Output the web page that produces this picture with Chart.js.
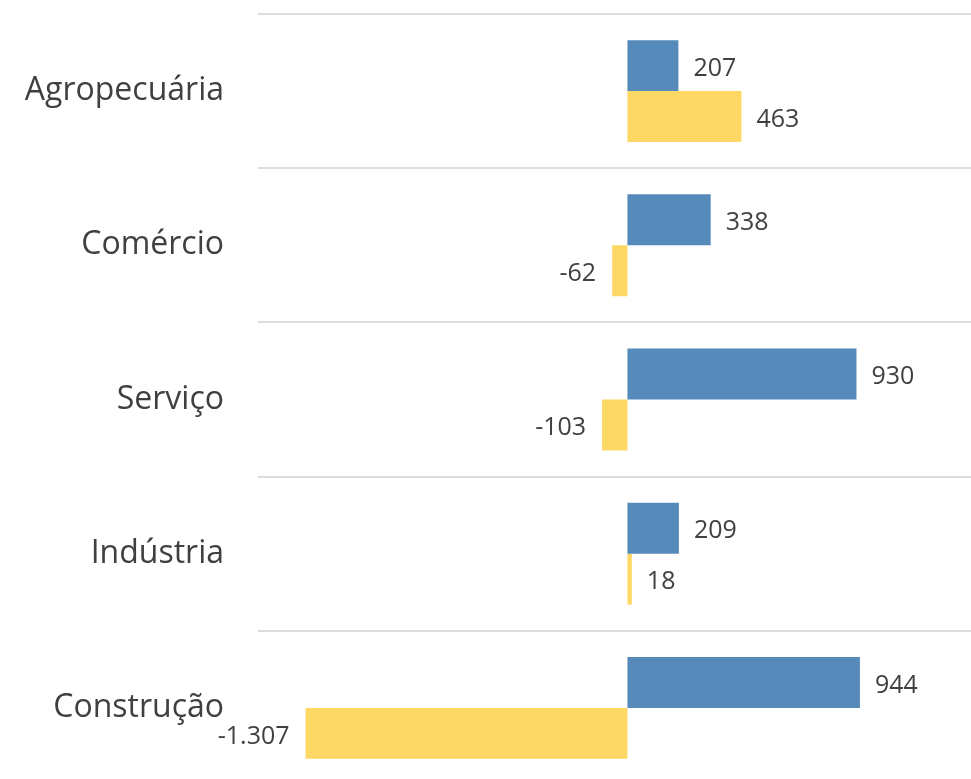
<!DOCTYPE html>
<html>
<head>
<meta charset="utf-8">
<script src="https://cdn.jsdelivr.net/npm/chart.js@4"></script>
<style>
html,body{margin:0;padding:0;background:#fff;overflow:hidden}
canvas{display:block}
</style>
</head>
<body>
<canvas id="grafico" width="971" height="800"></canvas>
<script>
const setores=['Agropecuária','Comércio','Serviço','Indústria','Construção'];
const serieAzul=[207,338,930,209,944];
const serieAmarela=[463,-62,-103,18,-1307];

// rótulo no formato pt-BR (ponto como separador de milhar)
function fmt(v){return v.toLocaleString('pt-BR')}

const rotulos={
  id:'rotulos',
  afterDatasetsDraw(chart){
    const ctx=chart.ctx;
    ctx.save();
    ctx.font='25px "Open Sans"';ctx.fillStyle='#404040';ctx.textBaseline='middle';
    chart.data.datasets.forEach((ds,i)=>{
      chart.getDatasetMeta(i).data.forEach((bar,j)=>{
        const v=ds.data[j];
        if(v>=0){ctx.textAlign='left';ctx.fillText(fmt(v),bar.x+15,bar.y+3)}
        else{ctx.textAlign='right';ctx.fillText(fmt(v),bar.x-16,bar.y+3)}
      });
    });
    ctx.restore();
  }
};

new Chart(document.getElementById('grafico'),{
  type:'bar',
  data:{labels:setores,datasets:[
    {data:serieAzul,backgroundColor:'#558ABA',categoryPercentage:0.661,barPercentage:1},
    {data:serieAmarela,backgroundColor:'#FED865',categoryPercentage:0.661,barPercentage:1}
  ]},
  options:{
    indexAxis:'y',responsive:false,animation:false,
    layout:{padding:{top:14,bottom:15,right:0,left:0}},
    plugins:{legend:{display:false},tooltip:{enabled:false}},
    scales:{
      x:{display:false,min:-1500,max:1395},
      y:{
        afterFit(s){s.width=258;s.paddingTop=0;s.paddingBottom=0},
        grid:{offset:true,color:'#DDDDDD',lineWidth:2,drawTicks:false},
        border:{display:false},
        ticks:{padding:34,color:'#404040',font:{family:'"Open Sans"',size:32}}
      }
    }
  },
  plugins:[rotulos]
});
</script>
</body>
</html>
